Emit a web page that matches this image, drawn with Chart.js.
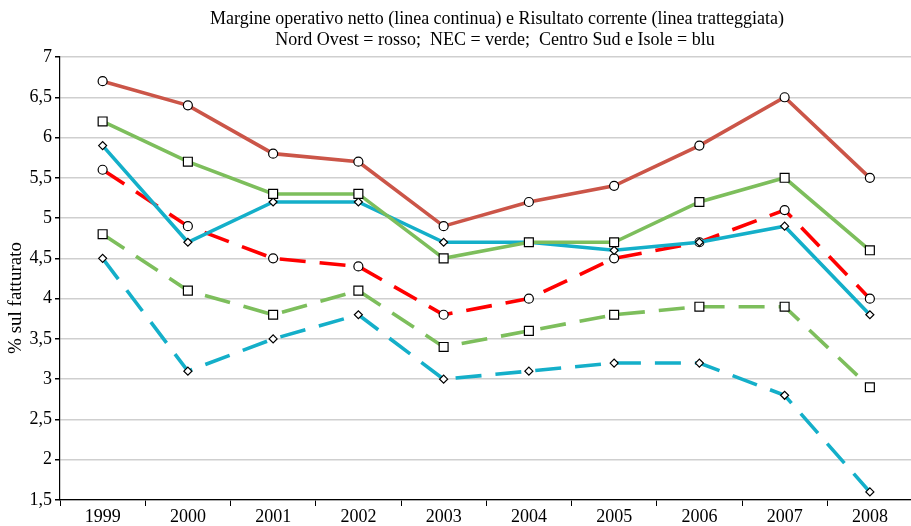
<!DOCTYPE html>
<html>
<head>
<meta charset="utf-8">
<script src="https://cdn.jsdelivr.net/npm/chart.js@4/dist/chart.umd.min.js"></script>
<style>
    html, body { margin: 0; padding: 0; background: #fff; overflow: hidden; }
    #wrap { width: 920px; height: 526px; }
</style>
</head>
<body>
<div id="wrap"><canvas id="lineChart"></canvas></div>
<script>
// Years on the x axis
const years = ['1999', '2000', '2001', '2002', '2003', '2004', '2005', '2006', '2007', '2008'];

// Margine operativo netto (solid lines)
const mon_nordOvest = [6.7, 6.4, 5.8, 5.7, 4.9, 5.2, 5.4, 5.9, 6.5, 5.5];
const mon_nec = [6.2, 5.7, 5.3, 5.3, 4.5, 4.7, 4.7, 5.2, 5.5, 4.6];
const mon_centroSud = [5.9, 4.7, 5.2, 5.2, 4.7, 4.7, 4.6, 4.7, 4.9, 3.8];

// Risultato corrente (dashed lines)
const rc_nordOvest = [5.6, 4.9, 4.5, 4.4, 3.8, 4.0, 4.5, 4.7, 5.1, 4.0];
const rc_nec = [4.8, 4.1, 3.8, 4.1, 3.4, 3.6, 3.8, 3.9, 3.9, 2.9];
const rc_centroSud = [4.5, 3.1, 3.5, 3.8, 3.0, 3.1, 3.2, 3.2, 2.8, 1.6];

const titleLines = [
    'Margine operativo netto (linea continua) e Risultato corrente (linea tratteggiata)',
    'Nord Ovest = rosso;  NEC = verde;  Centro Sud e Isole = blu'
];
const yAxisLabel = '% sul fatturato';

const serif = '"Liberation Serif", "DejaVu Serif", serif';

// helper for one line series
function series(label, data, color, dashed, style, radius) {
    return {
        label: label,
        data: data,
        borderColor: color,
        backgroundColor: color,
        borderWidth: 3.6,
        borderDash: dashed ? [26, 14] : [],
        tension: 0,
        pointStyle: style,
        pointRadius: radius,
        pointBackgroundColor: '#ffffff',
        pointBorderColor: '#000000',
        pointBorderWidth: 1.2,
        pointHoverRadius: radius
    };
}

// two title lines and the y axis label, placed like the original
const textPlugin = {
    id: 'extraText',
    afterDraw(chart) {
        const ctx = chart.ctx;
        ctx.save();
        ctx.fillStyle = '#000';
        ctx.font = '18px ' + serif;
        ctx.textAlign = 'center';
        ctx.textBaseline = 'middle';
        ctx.fillText(titleLines[0], 497, 19);
        ctx.fillText(titleLines[1], 495, 40);

        ctx.font = '19px ' + serif;
        ctx.translate(16, 298);
        ctx.rotate(-Math.PI / 2);
        ctx.fillText(yAxisLabel, 0, 0);
        ctx.restore();
    }
};

const ctx = document.getElementById('lineChart').getContext('2d');
new Chart(ctx, {
    type: 'line',
    data: {
        labels: years,
        datasets: [
            series('Nord Ovest MON', mon_nordOvest, '#CB5548', false, 'circle', 4.5),
            series('NEC MON', mon_nec, '#7DBE5C', false, 'rect', 6.3),
            series('Centro Sud MON', mon_centroSud, '#14AFC9', false, 'rectRot', 4),
            series('Nord Ovest RC', rc_nordOvest, '#FF0000', true, 'circle', 4.5),
            series('NEC RC', rc_nec, '#7DBE5C', true, 'rect', 6.3),
            series('Centro Sud RC', rc_centroSud, '#14AFC9', true, 'rectRot', 4)
        ]
    },
    options: {
        responsive: true,
        maintainAspectRatio: false,
        animation: false,
        events: [],
        layout: {
            padding: { top: 57, right: 0, left: 0, bottom: 0 }
        },
        scales: {
            x: {
                offset: true,
                afterFit: s => { s.height = 26; },
                border: { color: '#000', width: 1.2 },
                grid: {
                    offset: true,
                    drawOnChartArea: false,
                    drawTicks: true,
                    tickLength: 6,
                    tickColor: '#000'
                },
                ticks: {
                    color: '#000',
                    padding: 0,
                    maxRotation: 0,
                    font: { family: serif, size: 18 }
                }
            },
            y: {
                min: 1.5,
                max: 7,
                afterFit: s => { s.width = 60; },
                border: { color: '#000', width: 1.2 },
                grid: {
                    color: '#CFCFCF',
                    lineWidth: 1.5,
                    tickLength: 5,
                    tickColor: '#000'
                },
                ticks: {
                    stepSize: 0.5,
                    color: '#000',
                    padding: 3,
                    font: { family: serif, size: 18 },
                    callback: v => String(v).replace('.', ',')
                }
            }
        },
        plugins: {
            legend: { display: false },
            title: { display: false },
            tooltip: { enabled: false }
        }
    },
    plugins: [textPlugin]
});
</script>
</body>
</html>
